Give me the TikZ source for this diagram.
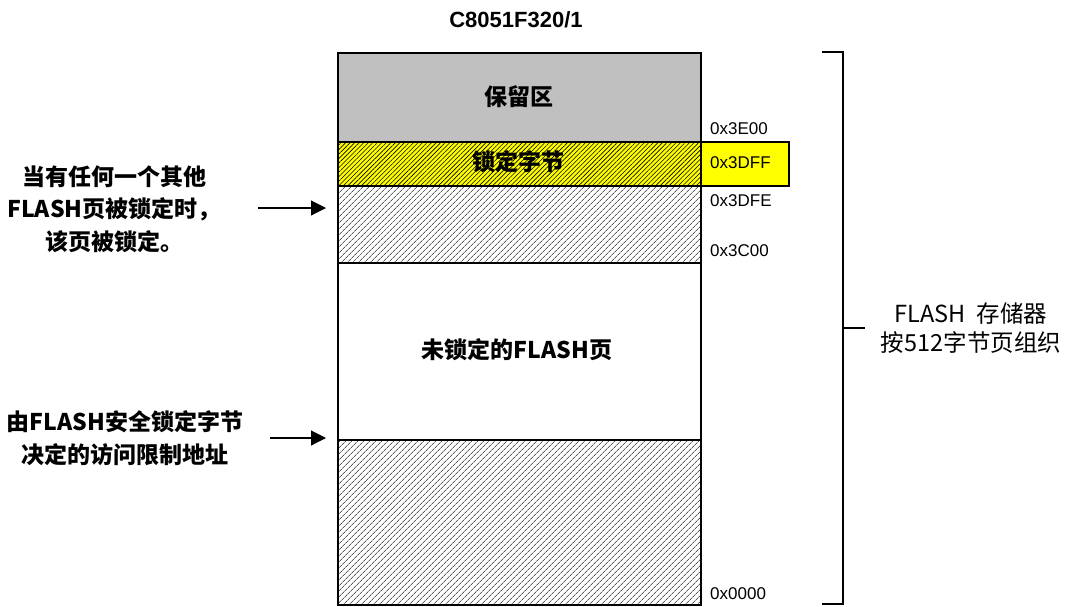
\documentclass[tikz,border=0pt]{standalone}
\usepackage{fontspec}
\setmainfont{Liberation Sans}
\newfontfamily\cjk{Noto Sans CJK SC}
\usetikzlibrary{patterns.meta,arrows.meta}
\definecolor{resgray}{RGB}{192,192,192}
\definecolor{lockyellow}{RGB}{255,255,0}
\tikzset{
  region/.style={draw=black, line width=1.6pt, rectangle, inner sep=0pt, minimum width=363pt, anchor=north west},
  hatch/.style={pattern={Lines[angle=45,distance=4pt,line width=0.6pt]}, pattern color=black},
  densehatch/.style={pattern={Lines[angle=45,distance=3.2pt,line width=0.6pt]}, pattern color=black},
  addr/.style={font=\fontsize{17}{19}\selectfont, anchor=west, inner sep=0pt},
  boldcjk/.style={font=\cjk\bfseries\fontsize{23}{33}\selectfont, align=center},
  note/.style={font=\cjk\bfseries\fontsize{23}{32.5}\selectfont, align=center},
  pointer/.style={line width=1.1pt, -{Triangle[length=15pt,width=15pt]}},
  bracketline/.style={line width=1.6pt},
}
\begin{document}
\begin{tikzpicture}[x=1pt,y=-1pt]
\useasboundingbox (0,0) rectangle (1068,606);
% title
\node[font=\bfseries\fontsize{22}{24}\selectfont] (title) at (516,20) {C8051F320/1};
% regions
\node[region, fill=resgray, minimum height=89pt] (res) at (337,52) {};
\node[boldcjk] (reslbl) at (518.5,97) {保留区};
\node[region, fill=lockyellow, minimum height=44pt] (lockbg) at (337,141) {};
\node[region, densehatch, minimum height=44pt] (lockbyte) at (337,141) {};
\node[boldcjk] (locklbl) at (518.5,162) {锁定字节};
\node[region, fill=white, minimum height=77pt] (lockpgbg) at (337,185) {};
\node[region, hatch, minimum height=77pt] (lockpage) at (337,185) {};
\node[region, fill=white, minimum height=177pt] (unlocked) at (337,262) {};
\node[boldcjk] (unlbl) at (517,350) {未锁定的FLASH页};
\node[region, fill=white, minimum height=165pt] (restrbg) at (337,439) {};
\node[region, hatch, minimum height=165pt] (restr) at (337,439) {};
% side yellow box
\node[draw=black, line width=1.6pt, fill=lockyellow, rectangle, inner sep=0pt,
      minimum width=88pt, minimum height=44pt, anchor=north west] (sidebox) at (700,141) {};
% addresses
\node[addr] (a3e00) at (710,129) {0x3E00};
\node[addr] (a3dff) at (710,163) {0x3DFF};
\node[addr] (a3dfe) at (710,201) {0x3DFE};
\node[addr] (a3c00) at (710,251) {0x3C00};
\node[addr] (a0000) at (710,594) {0x0000};
% bracket
\coordinate (btop) at (822,52);
\coordinate (bbot) at (822,604);
\coordinate (bmid) at (843,328);
\coordinate (btick) at (865,328);
\draw[bracketline] (btop) -- (843,52) -- (843,604) -- (bbot);
\draw[bracketline] (bmid) -- (btick);
\node[font=\cjk\fontsize{23.5}{29}\selectfont, align=center] (flashtxt) at (971,328) {FLASH\ \ 存储器\\按512字节页组织};
% left notes
\node[note] (note1) at (114,209) {当有任何一个其他\\FLASH页被锁定时，\\该页被锁定。};
\node[note] (note2) at (125,438) {由FLASH安全锁定字节\\决定的访问限制地址};
\coordinate (n1s) at (258,208);
\coordinate (n1e) at (326,208);
\coordinate (n2s) at (270,438);
\coordinate (n2e) at (326,438);
\draw[pointer] (n1s) -- (n1e);
\draw[pointer] (n2s) -- (n2e);
\end{tikzpicture}
\end{document}
